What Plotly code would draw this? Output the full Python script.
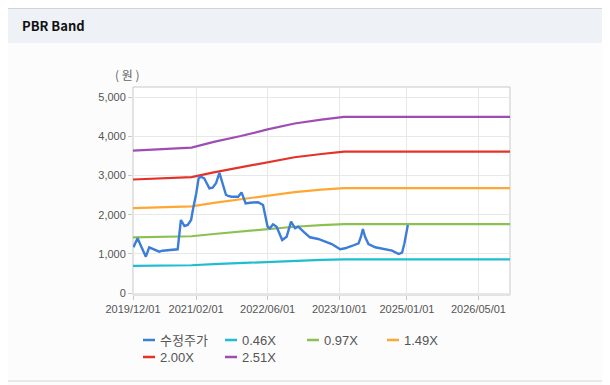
import plotly.graph_objects as go

# ---------------- data ----------------
price_dates = [
    "2019-12-04", "2020-01-01", "2020-01-28", "2020-02-26", "2020-03-20", "2020-04-23",
    "2020-05-27", "2020-06-18", "2020-08-03", "2020-09-29", "2020-10-21", "2020-11-14",
    "2020-12-06", "2020-12-29", "2021-01-10", "2021-01-21", "2021-02-02", "2021-02-18",
    "2021-03-05", "2021-03-28", "2021-05-02", "2021-05-24", "2021-06-16", "2021-07-09",
    "2021-08-01", "2021-08-23", "2021-09-06", "2021-09-29", "2021-11-13", "2021-12-06",
    "2021-12-17", "2022-01-03", "2022-02-02", "2022-03-28", "2022-05-01", "2022-05-17",
    "2022-06-01", "2022-06-16", "2022-07-08", "2022-08-01", "2022-08-23", "2022-09-08",
    "2022-10-08", "2022-11-07", "2022-12-04", "2022-12-26", "2023-01-30", "2023-03-15",
    "2023-05-10", "2023-06-25", "2023-08-10", "2023-10-06", "2023-11-09", "2023-12-24",
    "2024-02-08", "2024-02-24", "2024-03-08", "2024-03-23", "2024-04-15", "2024-05-31",
    "2024-07-26", "2024-09-22", "2024-11-06", "2024-11-29", "2024-12-15", "2024-12-28",
    "2025-01-07",
]
price_values = [
    1168, 1398, 1168, 928, 1168, 1117,
    1056, 1081, 1099, 1117, 1865, 1712,
    1737, 1865, 2120, 2291, 2547, 2930,
    2972, 2930, 2675, 2690, 2803, 3070,
    2760, 2504, 2480, 2460, 2460, 2570,
    2461, 2291, 2307, 2320, 2248, 1993,
    1694, 1653, 1755, 1694, 1482, 1354,
    1438, 1822, 1653, 1694, 1566, 1423,
    1380, 1311, 1252, 1117, 1142, 1201,
    1270, 1438, 1635, 1438, 1252, 1168,
    1117, 1081, 996, 1030, 1270, 1525,
    1737,
]

band_dates = [
    "2019-12-01", "2020-04-01", "2020-08-01", "2021-01-01", "2021-06-01", "2021-12-01",
    "2022-06-01", "2022-12-01", "2023-06-01", "2023-11-01", "2026-12-01",
]
band_046 = [695, 700, 705, 709, 737, 766, 799, 827, 847, 860, 860]
band_097 = [1420, 1430, 1440, 1450, 1507, 1566, 1634, 1693, 1732, 1760, 1760]
band_149 = [2170, 2185, 2200, 2214, 2301, 2389, 2490, 2579, 2639, 2680, 2680]
band_200 = [2900, 2921, 2941, 2962, 3082, 3205, 3346, 3469, 3552, 3610, 3610]
band_251 = [3640, 3665, 3690, 3715, 3860, 4010, 4180, 4330, 4430, 4500, 4500]

x_tick_vals = ["2019-12-01", "2021-02-01", "2022-06-01", "2023-10-01", "2025-01-01", "2026-05-01"]
x_tick_text = ["2019/12/01", "2021/02/01", "2022/06/01", "2023/10/01", "2025/01/01", "2026/05/01"]
y_tick_vals = [0, 1000, 2000, 3000, 4000, 5000]

series_names = ["수정주가", "0.46X", "0.97X", "1.49X", "2.00X", "2.51X"]
series_colors = ["#3b7dd8", "#1fbdcf", "#8cc152", "#ffa733", "#e2322a", "#9e4db3"]

# ---------------- layout geometry ----------------
# The page body has an 8px margin, so the figure starts at page (8, 8).
OFF = 8
W, H = 610 - OFF, 385 - OFF
PL, PT, PR, PB = 133, 87, 510, 295          # plot area in page pixels
ML, MT = PL - OFF, PT - OFF
PW, PH = PR - PL, PB - PT
MR, MB = W - ML - PW, H - MT - PH


def px(xp):
    """page x pixel -> paper coordinate"""
    return (xp - PL) / PW


def py(yp):
    """page y pixel -> paper coordinate"""
    return (PB - yp) / PH


fig = go.Figure()

bands = [band_046, band_097, band_149, band_200, band_251]
for i, vals in enumerate(bands):
    fig.add_trace(go.Scatter(
        x=band_dates, y=vals, mode="lines", name=series_names[i + 1],
        line=dict(color=series_colors[i + 1], width=2.2), showlegend=False,
    ))
fig.add_trace(go.Scatter(
    x=price_dates, y=price_values, mode="lines", name=series_names[0],
    line=dict(color=series_colors[0], width=2.4), showlegend=False,
))

shapes = [
    # body background
    dict(type="rect", xref="paper", yref="paper", x0=px(0), x1=px(615), y0=py(390), y1=py(8),
         fillcolor="#fcfcfc", line_width=0, layer="below"),
    # header
    dict(type="rect", xref="paper", yref="paper", x0=px(0), x1=px(615), y0=py(43), y1=py(8),
         fillcolor="#eef2f7", line_width=0, layer="below"),
    # top line
    dict(type="line", xref="paper", yref="paper", x0=px(0), x1=px(615), y0=py(8.5), y1=py(8.5),
         line=dict(color="#d4d4d4", width=1.2), layer="below"),
    # bottom line
    dict(type="line", xref="paper", yref="paper", x0=px(0), x1=px(615), y0=py(381), y1=py(381),
         line=dict(color="#d4d4d4", width=1.2), layer="below"),
    # plot area
    dict(type="rect", xref="paper", yref="paper", x0=0, x1=1, y0=0, y1=1,
         fillcolor="#ffffff", line=dict(color="#c9c9c9", width=1), layer="below"),
]

annotations = [
    dict(text="<b>PBR Band</b>", xref="paper", yref="paper", x=px(20), y=py(26),
         xanchor="left", yanchor="middle", showarrow=False,
         font=dict(family="Noto Sans CJK KR", size=13, color="#111111")),
    dict(text="( 원 )", xref="paper", yref="paper", x=px(127), y=py(74),
         xanchor="center", yanchor="middle", showarrow=False,
         font=dict(family="Noto Sans CJK KR", size=12, color="#666666")),
]

# manual legend (short line symbols like the reference)
legend_pos = [(143, 340), (225, 340), (307, 340), (387, 340), (143, 357), (225, 357)]
for (lx, ly), name, color in zip(legend_pos, series_names, series_colors):
    shapes.append(dict(type="line", xref="paper", yref="paper",
                       x0=px(lx), x1=px(lx + 12), y0=py(ly), y1=py(ly),
                       line=dict(color=color, width=2.5)))
    annotations.append(dict(text=name, xref="paper", yref="paper", x=px(lx + 15), y=py(ly),
                            xanchor="left", yanchor="middle", showarrow=False,
                            font=dict(family="Liberation Sans, Noto Sans CJK KR", size=13,
                                      color="#555555")))

fig.update_layout(
    width=W, height=H,
    margin=dict(l=ML, r=MR, t=MT, b=MB, autoexpand=False),
    paper_bgcolor="#ffffff", plot_bgcolor="rgba(0,0,0,0)",
    showlegend=False,
    shapes=shapes, annotations=annotations,
    font=dict(family="Liberation Sans, Arial, sans-serif", size=11, color="#555555"),
    xaxis=dict(
        type="date", range=["2019-12-01", "2026-12-01"],
        tickvals=x_tick_vals, ticktext=x_tick_text,
        showgrid=True, gridcolor="#e8e8e8", gridwidth=1,
        ticks="outside", ticklen=4, tickcolor="#c9c9c9",
        showline=False, zeroline=False,
        tickfont=dict(size=11, color="#555555"),
    ),
    yaxis=dict(
        range=[-51, 5263], tickvals=y_tick_vals, tickformat=",",
        showgrid=True, gridcolor="#e8e8e8", gridwidth=1,
        ticks="outside", ticklen=4, tickcolor="#c9c9c9",
        showline=False, zeroline=False,
        tickfont=dict(size=11, color="#555555"),
    ),
)

fig.write_html("out.html")
